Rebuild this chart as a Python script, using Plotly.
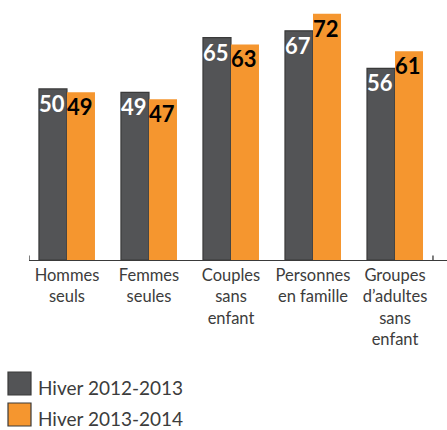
import plotly.graph_objects as go

categories = ["Hommes<br>seuls", "Femmes<br>seules", "Couples<br>sans<br>enfant",
              "Personnes<br>en famille", "Groupes<br>d’adultes<br>sans<br>enfant"]
series_names = ["Hiver 2012-2013", "Hiver 2013-2014"]
values_2012 = [50, 49, 65, 67, 56]
values_2013 = [49, 47, 63, 72, 61]

GRAY = "#535456"
ORANGE = "#F5962F"
OUTLINE = "#3a3a3a"
TEXT = "#3c3c3c"

W, H = 447, 430
ML, MR, MT, MB = 29, 0, 0, 170
PW, PH = W - ML - MR, H - MT - MB
BAR_PX = 28  # width of one bar in pixels (for label offset)

fig = go.Figure()
fig.add_bar(x=categories, y=values_2012, name=series_names[0],
            marker=dict(color=GRAY, line=dict(color=OUTLINE, width=1.2)))
fig.add_bar(x=categories, y=values_2013, name=series_names[1],
            marker=dict(color=ORANGE, line=dict(width=0)))

n = len(categories)
shapes = []
for xv in (-0.463, n - 1 + 0.463):
    shapes.append(dict(type="line", xref="x", yref="y", x0=xv, x1=xv, y0=0, y1=1.3,
                       line=dict(color=OUTLINE, width=1.3)))

annotations = []
for vals, shift, col in ((values_2012, -BAR_PX / 2, "white"), (values_2013, BAR_PX / 2, "black")):
    for c, v in zip(categories, vals):
        annotations.append(dict(x=c, y=v, xref="x", yref="y", text=f"<b>{v}</b>",
                                showarrow=False, xanchor="center", yanchor="top",
                                xshift=shift - 1, yshift=1,
                                font=dict(family="Lato", size=22, color=col)))

def px(x):
    return (x - ML) / PW

def py(y):
    return 1 - (y - MT) / PH

legend_colors = [GRAY, ORANGE]
legend_tops = [372, 403]
for name, col, top in zip(series_names, legend_colors, legend_tops):
    shapes.append(dict(type="rect", xref="paper", yref="paper",
                       x0=px(8), x1=px(31), y0=py(top + 23), y1=py(top),
                       fillcolor=col, line=dict(color=OUTLINE, width=1.2)))
    annotations.append(dict(xref="paper", yref="paper", x=px(36), y=py(top + 15),
                            xanchor="left", yanchor="middle", text=name, showarrow=False,
                            font=dict(family="Lato", size=19, color=TEXT)))

fig.update_layout(
    width=W, height=H,
    margin=dict(l=ML, r=MR, t=MT, b=MB, autoexpand=False),
    paper_bgcolor="white", plot_bgcolor="white",
    barmode="group", bargap=0.317, bargroupgap=0,
    showlegend=False,
    shapes=shapes, annotations=annotations,
    xaxis=dict(range=[-0.463, n - 1 + 0.634], showline=True, linecolor=OUTLINE, linewidth=1.3,
               ticks="", showgrid=False, zeroline=False, automargin=False,
               tickfont=dict(family="Lato", size=16.5, color=TEXT)),
    yaxis=dict(range=[0, 76.0], visible=False, showgrid=False, zeroline=False, automargin=False),
)

fig.write_html("out.html", config={"displayModeBar": False},
               post_script="document.body.style.margin='0';document.body.style.overflow='hidden';")
